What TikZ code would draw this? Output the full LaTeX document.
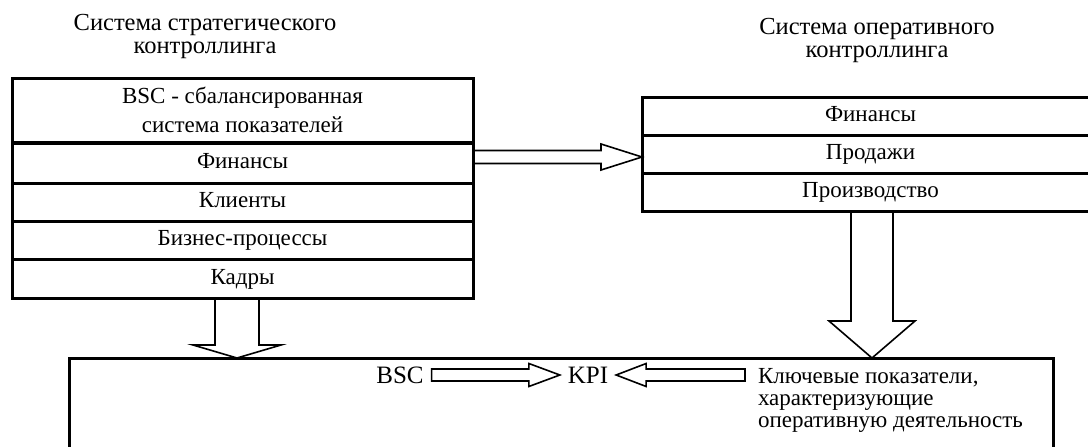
\documentclass[tikz,border=0pt]{standalone}
\usepackage{fontspec}
\setmainfont{Liberation Serif}
\usetikzlibrary{calc}
% horizontal hollow arrow: #1 start, #2 tip, #3 shaft half width, #4 head half width, #5 signed head length
\newcommand\fatH[5]{%
  \draw[fat] ($(#1)+(0,-#3)$) -- ($(#2)+({-1*(#5)},-#3)$) -- ($(#2)+({-1*(#5)},-#4)$) -- (#2)
    -- ($(#2)+({-1*(#5)},#4)$) -- ($(#2)+({-1*(#5)},#3)$) -- ($(#1)+(0,#3)$) -- cycle;}
% vertical hollow arrow (downwards in picture coordinates)
\newcommand\fatV[5]{%
  \draw[fat] ($(#1)+(-#3,0)$) -- ($(#2)+(-#3,{-1*(#5)})$) -- ($(#2)+(-#4,{-1*(#5)})$) -- (#2)
    -- ($(#2)+(#4,{-1*(#5)})$) -- ($(#2)+(#3,{-1*(#5)})$) -- ($(#1)+(#3,0)$) -- cycle;}
\begin{document}
\begin{tikzpicture}[x=1pt,y=-1pt,
  cell/.style={draw, line width=3pt, outer sep=0pt, inner sep=0pt, align=center,
    font=\fontsize{23}{29}\selectfont},
  lbl/.style={inner sep=0pt, outer sep=0pt, align=center, font=\fontsize{23}{23}\selectfont},
  title/.style={lbl, font=\fontsize{24.5}{23}\selectfont},
  fat/.style={draw, line width=1.6pt, line join=miter}]
\useasboundingbox (0,0) rectangle (1088,447);

% titles
\node[title] (t1) at (205,36) {Система стратегического\\контроллинга};
\node[title] (t2) at (877,40) {Система оперативного\\контроллинга};

% strategic controlling box
\node[cell, minimum width=461pt, minimum height=64pt] (L0) at (242.5,110) {BSC - сбалансированная\\система показателей};
\node[cell, minimum width=461pt, minimum height=40pt] (L1) at (242.5,163) {\strut Финансы};
\node[cell, minimum width=461pt, minimum height=38pt] (L2) at (242.5,202) {\strut Клиенты};
\node[cell, minimum width=461pt, minimum height=38pt] (L3) at (242.5,240) {\strut Бизнес-процессы};
\node[cell, minimum width=461pt, minimum height=39pt] (L4) at (242.5,278.5) {\strut Кадры};

% operative controlling box
\node[cell, minimum width=457pt, minimum height=38pt] (R1) at (870.5,116) {\strut Финансы};
\node[cell, minimum width=457pt, minimum height=38pt] (R2) at (870.5,154) {\strut Продажи};
\node[cell, minimum width=457pt, minimum height=38pt] (R3) at (870.5,192) {\strut Производство};

% bottom box
\node[draw, line width=3pt, outer sep=0pt, minimum width=984pt, minimum height=120pt] (B) at (561,418) {};

% contents of bottom box
\node[lbl, inner xsep=8pt, font=\fontsize{25}{25}\selectfont] (bsc) at (400,375) {BSC};
\node[lbl, inner xsep=8pt, font=\fontsize{25}{25}\selectfont] (kpi) at (588,375) {KPI};
\node[lbl, inner xsep=13pt, anchor=north west, align=left, font=\fontsize{23}{22}\selectfont] (K) at (745,365)
  {\rule{0pt}{18pt}Ключевые показатели,\\характеризующие\\оперативную деятельность};

% connectors
\coordinate (a1s) at ($(L1.east)+(0,-6)$);
\coordinate (a1e) at ($(R2.west)+(0,3)$);
\fatH{a1s}{a1e}{6.5}{13}{41}

\coordinate (a2s) at ($(L4.south)+(-5.5,0)$);
\coordinate (a2e) at (a2s |- B.north);
\fatV{a2s}{a2e}{22}{44}{13}

\coordinate (a3s) at ($(R3.south)+(1.5,0)$);
\coordinate (a3e) at (a3s |- B.north);
\fatV{a3s}{a3e}{21}{43}{37}

\fatH{bsc.east}{kpi.west}{6}{11.5}{31}
\coordinate (a5s) at (K.west |- kpi.east);
\fatH{a5s}{kpi.east}{6}{11.5}{-30}
\end{tikzpicture}
\end{document}
